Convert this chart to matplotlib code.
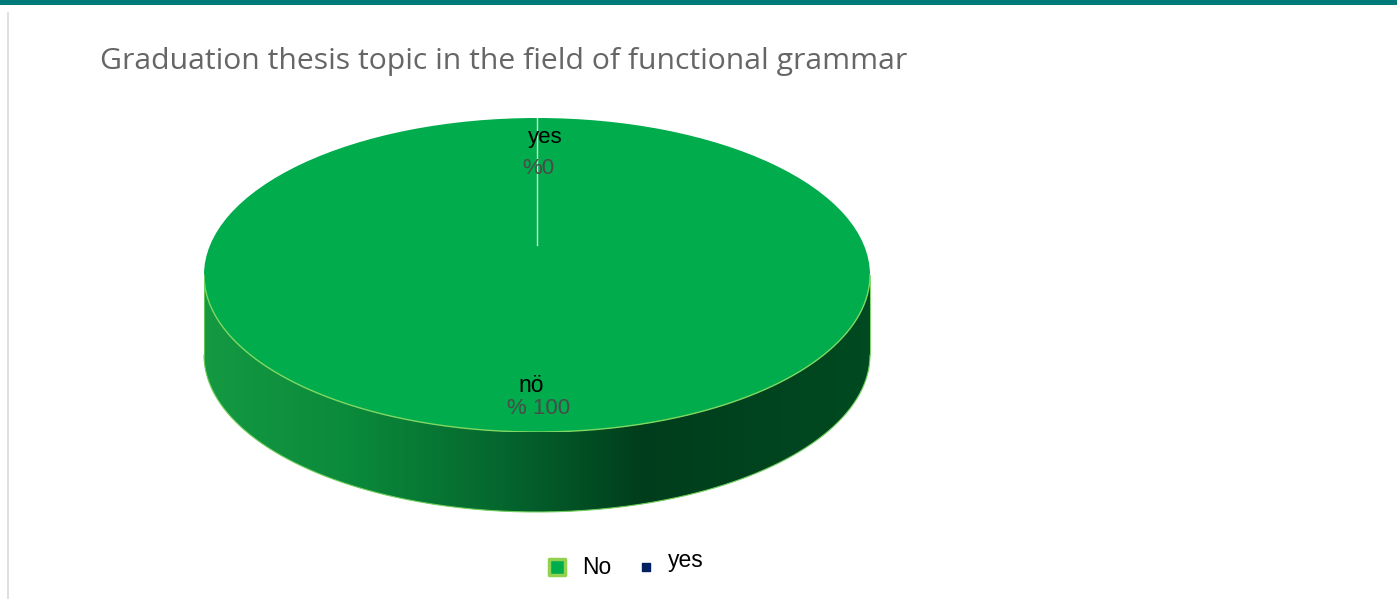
import numpy as np
import matplotlib
matplotlib.use("Agg")
import matplotlib.pyplot as plt
from matplotlib.patches import Polygon
from matplotlib.colors import LinearSegmentedColormap

# ---- data ----
title = "Graduation thesis topic in the field of functional grammar"
categories = ["No", "yes"]
label_names = ["nö", "yes"]
values = [100, 0]
pct_labels = ["% 100", "%0"]
colors = ["#00ac4c", "#002060"]

W, H = 1397, 599
fig = plt.figure(figsize=(W / 100, H / 100), dpi=100)
fig.patch.set_facecolor("white")

# pixel axes for decorations
ax = fig.add_axes([0, 0, 1, 1])
ax.set_xlim(0, W)
ax.set_ylim(H, 0)
ax.axis("off")

# top teal bar and left grey border
ax.add_patch(plt.Rectangle((0, 0), W, 5, color="#007a78", lw=0))
ax.plot([8, 8], [13, H], color="#d9d9d9", lw=1.2)

# geometry of the 3D pie
cx, cy, a, b, depth = 537, 275, 333, 157, 80

# side (front half of cylinder) with horizontal gradient
th = np.linspace(0, np.pi, 300)
xs = cx - a * np.cos(th)
ys_top = cy + b * np.sin(th)
ys_bot = ys_top + depth
poly_pts = np.vstack([np.column_stack([xs, ys_top]),
                      np.column_stack([xs[::-1], ys_bot[::-1]])])
side = Polygon(poly_pts, closed=True, facecolor="none", edgecolor="none")
ax.add_patch(side)
stops = [(0.0, (0.08, 0.60, 0.26)), (0.22, (0.04, 0.54, 0.23)),
         (0.45, (0.02, 0.40, 0.18)), (0.66, (0.0, 0.24, 0.11)),
         (1.0, (0.0, 0.29, 0.13))]
cmap = LinearSegmentedColormap.from_list("side", stops)
grad = np.linspace(0, 1, 512)[None, :]
im = ax.imshow(grad, cmap=cmap, extent=(cx - a, cx + a, cy + b + depth, cy - 2),
               aspect="auto", zorder=1)
im.set_clip_path(side)
ax.plot(xs, ys_bot, color="#6fcf5a", lw=0.8, zorder=2)
ax.plot([cx - a, cx - a], [cy, cy + depth], color="#6fcf5a", lw=0.6, zorder=2)
ax.plot([cx + a, cx + a], [cy, cy + depth], color="#6fcf5a", lw=0.6, zorder=2)
ax.set_xlim(0, W)
ax.set_ylim(H, 0)

# top of pie: separate axes over the ellipse bounding box
pax = fig.add_axes([(cx - a) / W, 1 - (cy + b) / H, 2 * a / W, 2 * b / H])
wedges, _ = pax.pie(values, colors=colors, startangle=90, counterclock=False,
                    radius=1, wedgeprops=dict(linewidth=0))
pax.set_aspect("auto")
pax.set_xlim(-1, 1)
pax.set_ylim(-1, 1)
pax.axis("off")
tt = np.linspace(np.pi, 2 * np.pi, 300)
pax.plot(np.cos(tt), np.sin(tt), color="#7fd860", lw=1.0)
pax.plot([0, 0], [0.19, 1], color="#cfe8cf", lw=1.0)

# overlay axes for texts
tax = fig.add_axes([0, 0, 1, 1])
tax.set_xlim(0, W)
tax.set_ylim(H, 0)
tax.axis("off")
tax.patch.set_alpha(0)

# data labels
tax.text(545, 137, label_names[1], fontsize=16, family="Liberation Sans",
         color="black", ha="center", va="center")
tax.text(538, 168, pct_labels[1], fontsize=16, family="Liberation Sans",
         color="#4a4a4a", ha="center", va="center")
tax.text(531, 386, label_names[0], fontsize=16.5, family="Liberation Sans",
         color="black", ha="center", va="center")
tax.text(539, 409, pct_labels[0], fontsize=16, family="Liberation Sans",
         color="#4a4a4a", ha="center", va="center")

# title
tax.text(100, 62, title, fontsize=21.7, family="Open Sans", color="#666666",
         ha="left", va="center")

# legend
tax.scatter([557], [567], marker="s", s=120, facecolor=colors[0],
            edgecolor="#92d050", linewidths=2.5, zorder=5)
tax.text(582, 567, categories[0], fontsize=16.5, family="Liberation Sans",
         ha="left", va="center")
tax.scatter([646], [567], marker="s", s=30, facecolor=colors[1],
            edgecolor=colors[1], zorder=5)
tax.text(668, 561, categories[1], fontsize=16.5, family="Liberation Sans",
         ha="left", va="center")

fig.savefig("out.png", dpi=100)
